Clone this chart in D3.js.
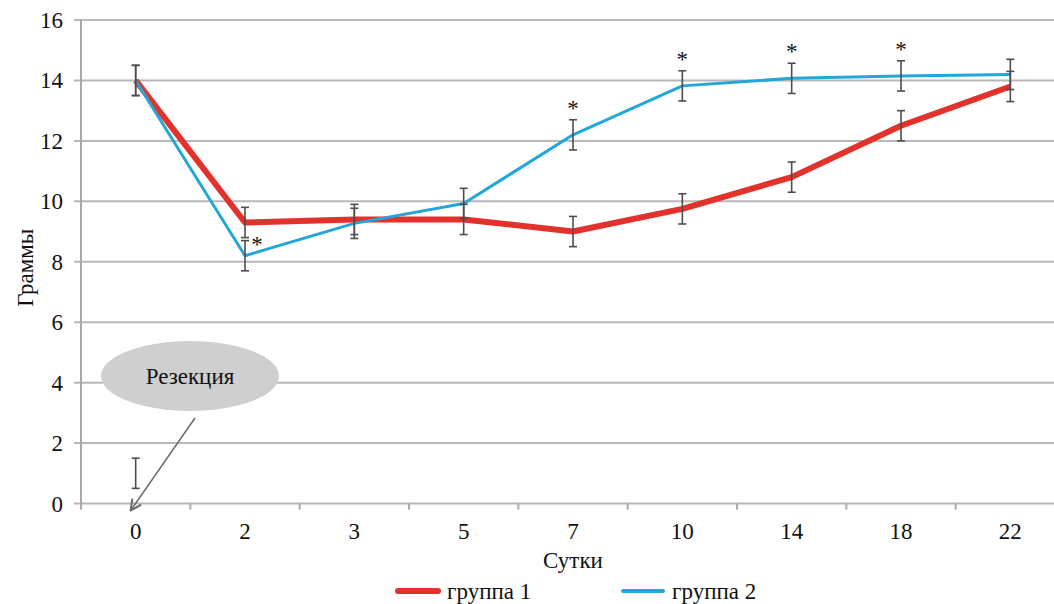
<!DOCTYPE html>
<html>
<head>
<meta charset="utf-8">
<script src="https://cdn.jsdelivr.net/npm/d3@7"></script>
<style>
  body { margin: 0; background: #fff; }
  text { font-family: "Liberation Serif", "Times New Roman", serif; fill: #111; }
</style>
</head>
<body>
<div id="canvas"></div>
<script>
// Data
const days = ["0", "2", "3", "5", "7", "10", "14", "18", "22"];
const group1 = [14.0, 9.3, 9.4, 9.4, 9.0, 9.75, 10.8, 12.5, 13.8];
const group2 = [14.0, 8.2, 9.27, 9.93, 12.2, 13.82, 14.07, 14.15, 14.2];
const err1 = [0.5, 0.5, 0.5, 0.5, 0.5, 0.5, 0.5, 0.5, 0.5];
const err2 = [0.5, 0.5, 0.5, 0.5, 0.5, 0.5, 0.5, 0.5, 0.5];
const starred = ["2", "7", "10", "14", "18"];
const yTicks = [0, 2, 4, 6, 8, 10, 12, 14, 16];
const resection = { day: "0", value: 1.0, err: 0.5 };

const width = 1054, height = 604;
const margin = { top: 20, left: 81, bottom: 101 };
const fs = 23;

const svg = d3.select("#canvas")
    .append("svg")
    .attr("width", width)
    .attr("height", height);

const x = d3.scaleBand()
    .domain(days)
    .range([margin.left, 1065]);

const y = d3.scaleLinear()
    .domain([0, 16])
    .range([height - margin.bottom + 0.5, margin.top]);

const cx = d => x(d) + x.bandwidth() / 2;

// gridlines
svg.append("g")
    .selectAll("line")
    .data(yTicks)
    .join("line")
    .attr("x1", margin.left - 7)
    .attr("x2", width)
    .attr("y1", d => y(d))
    .attr("y2", d => y(d))
    .attr("stroke", "#b8b8b8")
    .attr("stroke-width", 2);

// y axis line
svg.append("line")
    .attr("x1", margin.left).attr("x2", margin.left)
    .attr("y1", y(16)).attr("y2", y(0) + 6)
    .attr("stroke", "#a8a8a8").attr("stroke-width", 2);

// x ticks at band boundaries
svg.append("g")
    .selectAll("line")
    .data(days.slice(1))
    .join("line")
    .attr("x1", d => x(d)).attr("x2", d => x(d))
    .attr("y1", y(0)).attr("y2", y(0) + 6)
    .attr("stroke", "#a8a8a8").attr("stroke-width", 2);

// y tick labels
svg.append("g")
    .selectAll("text")
    .data(yTicks)
    .join("text")
    .attr("x", 63)
    .attr("y", d => y(d))
    .attr("dy", "0.35em")
    .attr("text-anchor", "end")
    .attr("font-size", fs)
    .text(d => d);

// x tick labels
svg.append("g")
    .selectAll("text")
    .data(days)
    .join("text")
    .attr("x", d => cx(d))
    .attr("y", 539)
    .attr("text-anchor", "middle")
    .attr("font-size", fs)
    .text(d => d);

// axis titles
svg.append("text")
    .attr("x", cx("7"))
    .attr("y", 568)
    .attr("text-anchor", "middle")
    .attr("font-size", fs)
    .text("Сутки");

svg.append("text")
    .attr("transform", `translate(33, ${y(7.8)}) rotate(-90)`)
    .attr("text-anchor", "middle")
    .attr("font-size", fs)
    .text("Граммы");

// lines
const line = d3.line()
    .x((d, i) => cx(days[i]))
    .y(d => y(d));

svg.append("path")
    .datum(group1)
    .attr("d", line)
    .attr("fill", "none")
    .attr("stroke", "#e2322b")
    .attr("stroke-width", 6)
    .attr("stroke-linejoin", "round");

svg.append("path")
    .datum(group2)
    .attr("d", line)
    .attr("fill", "none")
    .attr("stroke", "#23a6d8")
    .attr("stroke-width", 3)
    .attr("stroke-linejoin", "round");

// error bars
const bars = [];
days.forEach((d, i) => {
    bars.push({ day: d, v: group1[i], e: err1[i] });
    bars.push({ day: d, v: group2[i], e: err2[i] });
});
bars.push({ day: resection.day, v: resection.value, e: resection.err });

const eb = svg.append("g")
    .attr("stroke", "#4d4d4d")
    .attr("stroke-width", 1.6);

eb.selectAll("line.v")
    .data(bars)
    .join("line")
    .attr("class", "v")
    .attr("x1", d => cx(d.day)).attr("x2", d => cx(d.day))
    .attr("y1", d => y(d.v + d.e)).attr("y2", d => y(d.v - d.e));

eb.selectAll("line.t")
    .data(bars)
    .join("line")
    .attr("class", "t")
    .attr("x1", d => cx(d.day) - 4).attr("x2", d => cx(d.day) + 4)
    .attr("y1", d => y(d.v + d.e)).attr("y2", d => y(d.v + d.e));

eb.selectAll("line.b")
    .data(bars)
    .join("line")
    .attr("class", "b")
    .attr("x1", d => cx(d.day) - 4).attr("x2", d => cx(d.day) + 4)
    .attr("y1", d => y(d.v - d.e)).attr("y2", d => y(d.v - d.e));

// significance asterisks
svg.append("g")
    .selectAll("text")
    .data(starred)
    .join("text")
    .attr("x", d => d === "2" ? cx(d) + 12 : cx(d))
    .attr("y", d => {
        const i = days.indexOf(d);
        return d === "2" ? y(group2[i] + err2[i]) + 11 : y(group2[i] + err2[i]) - 4;
    })
    .attr("text-anchor", "middle")
    .attr("font-size", 23)
    .text("*");

// resection callout
svg.append("defs").append("marker")
    .attr("id", "arrow")
    .attr("viewBox", "0 0 10 10")
    .attr("refX", 9).attr("refY", 5)
    .attr("markerWidth", 9).attr("markerHeight", 9)
    .attr("orient", "auto")
    .append("path")
    .attr("d", "M1,1 L9,5 L1,9")
    .attr("fill", "none")
    .attr("stroke", "#6a6a6a")
    .attr("stroke-width", 1.5);

svg.append("line")
    .attr("x1", 195).attr("y1", 418)
    .attr("x2", cx("0") - 5).attr("y2", y(0) + 7)
    .attr("stroke", "#6a6a6a")
    .attr("stroke-width", 1.5)
    .attr("marker-end", "url(#arrow)");

svg.append("ellipse")
    .attr("cx", 190).attr("cy", 376)
    .attr("rx", 89).attr("ry", 35)
    .attr("fill", "#cfcfcf");

svg.append("text")
    .attr("x", 190).attr("y", 376)
    .attr("dy", "0.35em")
    .attr("text-anchor", "middle")
    .attr("font-size", fs)
    .text("Резекция");

// legend
const legend = [
    { name: "группа 1", color: "#e2322b", w: 6, x: 398 },
    { name: "группа 2", color: "#23a6d8", w: 4, x: 623 }
];
const lg = svg.append("g").selectAll("g").data(legend).join("g");
lg.append("line")
    .attr("x1", d => d.x).attr("x2", d => d.x + 40)
    .attr("y1", 591).attr("y2", 591)
    .attr("stroke", d => d.color)
    .attr("stroke-width", d => d.w)
    .attr("stroke-linecap", "round");
lg.append("text")
    .attr("x", d => d.x + 49)
    .attr("y", 599)
    .attr("font-size", fs)
    .text(d => d.name);
</script>
</body>
</html>
